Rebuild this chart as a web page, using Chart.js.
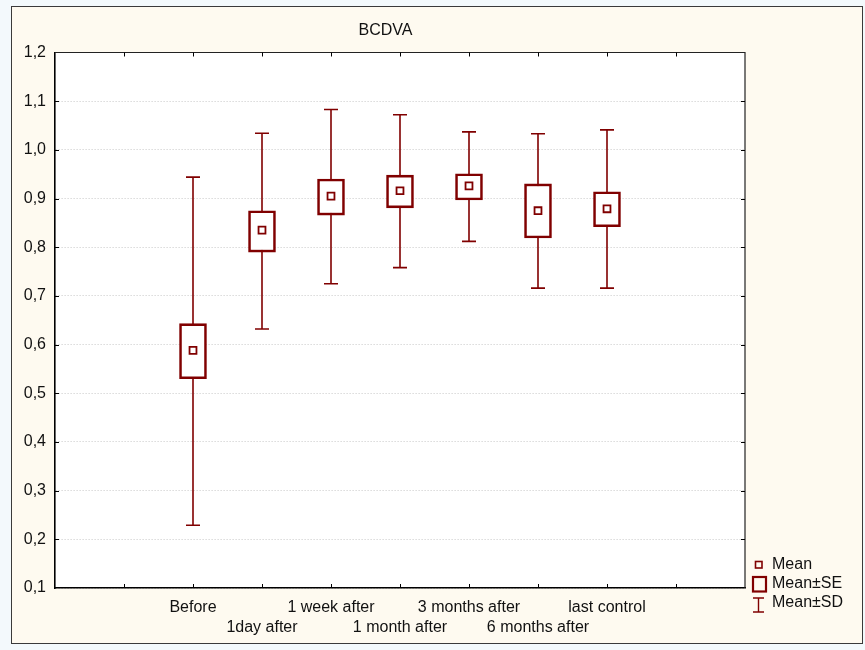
<!DOCTYPE html>
<html><head><meta charset="utf-8">
<script src="https://cdn.jsdelivr.net/npm/chart.js@4/dist/chart.umd.min.js"></script>
<style>
html,body{margin:0;padding:0;background:#f3f9fc;width:865px;height:650px;overflow:hidden;}
#panel{position:absolute;left:11px;top:6px;width:852px;height:638px;background:#fefaf0;border:1px solid #3a3a3a;box-sizing:border-box;}
#wrap{position:absolute;left:0;top:0;width:865px;height:650px;}
</style></head><body>
<div id="panel"></div>
<div id="wrap"><canvas id="c" width="865" height="650"></canvas></div>
<script>
const title = 'BCDVA';
const categories = ['Before','1day after','1 week after','1 month after','3 months after','6 months after','last control'];
const means  = [0.588, 0.835, 0.905, 0.916, 0.926, 0.875, 0.879];
const seLow  = [0.530, 0.790, 0.866, 0.881, 0.897, 0.819, 0.842];
const seHigh = [0.643, 0.875, 0.940, 0.948, 0.951, 0.930, 0.914];
const sdLow  = [0.229, 0.632, 0.725, 0.758, 0.812, 0.716, 0.716];
const sdHigh = [0.944, 1.034, 1.083, 1.072, 1.037, 1.033, 1.041];
const legendLabels = ['Mean', 'Mean\u00b1SE', 'Mean\u00b1SD'];

const RED = '#800000';
const FONT = "'Liberation Sans', Arial, sans-serif";
const OFFSET = 2; // first category sits at x = 2 on a 0..10 axis

const seData = categories.map((c, i) => ({x: i + OFFSET, y: [seLow[i], seHigh[i]]}));
const meanData = categories.map((c, i) => ({x: i + OFFSET, y: means[i]}));

const framePlugin = {
  id: 'frame',
  beforeDraw(chart) {
    const {ctx, chartArea: a} = chart;
    ctx.save();
    ctx.fillStyle = '#ffffff';
    ctx.fillRect(a.left, a.top, a.right - a.left, a.bottom - a.top);
    ctx.restore();
  },
  beforeDatasetsDraw(chart) {
    const {ctx, scales: {x, y}} = chart;
    ctx.save();
    ctx.strokeStyle = RED;
    ctx.lineWidth = 1.6;
    categories.forEach((c, i) => {
      const px = x.getPixelForValue(i + OFFSET);
      const yt = y.getPixelForValue(sdHigh[i]);
      const yb = y.getPixelForValue(sdLow[i]);
      ctx.beginPath();
      ctx.moveTo(px, yt); ctx.lineTo(px, yb);
      ctx.moveTo(px - 7, yt); ctx.lineTo(px + 7, yt);
      ctx.moveTo(px - 7, yb); ctx.lineTo(px + 7, yb);
      ctx.stroke();
    });
    ctx.restore();
  },
  afterDraw(chart) {
    const {ctx, chartArea: a, scales: {x, y}} = chart;
    ctx.save();
    // top & right frame
    ctx.strokeStyle = '#222';
    ctx.lineWidth = 1.2;
    ctx.beginPath();
    ctx.moveTo(a.left, a.top); ctx.lineTo(a.right, a.top); ctx.lineTo(a.right, a.bottom);
    ctx.stroke();
    // inward tick marks
    ctx.strokeStyle = '#000';
    ctx.lineWidth = 1;
    ctx.beginPath();
    x.ticks.forEach(t => {
      if (t.value <= x.min || t.value >= x.max) return;
      const px = Math.round(x.getPixelForValue(t.value)) + 0.5;
      ctx.moveTo(px, a.bottom); ctx.lineTo(px, a.bottom - 4);
      ctx.moveTo(px, a.top); ctx.lineTo(px, a.top + 4);
    });
    y.ticks.forEach(t => {
      if (t.value <= y.min + 1e-9 || t.value >= y.max - 1e-9) return;
      const py = Math.round(y.getPixelForValue(t.value)) + 0.5;
      ctx.moveTo(a.left, py); ctx.lineTo(a.left + 4, py);
      ctx.moveTo(a.right, py); ctx.lineTo(a.right - 4, py);
    });
    ctx.stroke();
    // title
    ctx.fillStyle = '#111';
    ctx.font = '16px ' + FONT;
    ctx.textAlign = 'center';
    ctx.textBaseline = 'middle';
    ctx.fillText(title, a.left + (a.right - a.left) / 2 - 14.5, 31);
    // legend
    const lx = a.right + 11;
    ctx.font = '16px ' + FONT;
    ctx.textAlign = 'left';
    ctx.strokeStyle = RED;
    ctx.lineWidth = 1.6;
    ctx.strokeRect(lx - 0.5, 561.5, 6.5, 6.5);
    ctx.fillStyle = '#111';
    ctx.fillText(legendLabels[0], lx + 16, 565);
    ctx.lineWidth = 2.2;
    ctx.strokeRect(lx - 3, 577, 13, 14.5);
    ctx.fillText(legendLabels[1], lx + 16, 584);
    ctx.lineWidth = 1.4;
    ctx.beginPath();
    ctx.moveTo(lx - 3, 598); ctx.lineTo(lx + 8, 598);
    ctx.moveTo(lx + 2.5, 598); ctx.lineTo(lx + 2.5, 612);
    ctx.moveTo(lx - 3, 612); ctx.lineTo(lx + 8, 612);
    ctx.stroke();
    ctx.fillText(legendLabels[2], lx + 16, 603);
    ctx.restore();
  }
};

new Chart(document.getElementById('c'), {
  type: 'bar',
  data: {
    datasets: [
      {
        type: 'scatter',
        data: meanData,
        pointStyle: 'rect',
        radius: 4.9,
        borderWidth: 1.8,
        borderColor: RED,
        backgroundColor: '#ffffff',
        order: 0
      },
      {
        type: 'bar',
        data: seData,
        barThickness: 27,
        grouped: false,
        borderWidth: 2.6,
        borderColor: RED,
        backgroundColor: '#ffffff',
        borderSkipped: false,
        order: 1
      }
    ]
  },
  options: {
    responsive: false,
    animation: false,
    events: [],
    layout: {padding: {top: 52.5, right: 120, left: 0, bottom: 0}},
    plugins: {legend: {display: false}, tooltip: {enabled: false}, title: {display: false}},
    scales: {
      x: {
        type: 'linear',
        offset: false,
        min: 0, max: 10,
        afterFit(s) { s.height = 62; },
        afterBuildTicks(s) { s.ticks = Array.from({length: 11}, (_, k) => ({value: k})); },
        grid: {display: false, drawTicks: false, offset: false},
        border: {display: true, color: '#000', width: 1.6},
        ticks: {
          autoSkip: false,
          maxRotation: 0,
          padding: 10,
          color: '#111',
          font: {family: FONT, size: 16, lineHeight: 1.25},
          callback(v) {
            const i = v - OFFSET;
            if (i < 0 || i >= categories.length || i !== Math.round(i)) return '';
            return i % 2 === 0 ? [categories[i]] : ['', categories[i]];
          }
        }
      },
      y: {
        min: 0.1, max: 1.2,
        afterFit(s) { s.width = 55; },
        grid: {color: '#c8c8c8', lineWidth: 1, drawTicks: false},
        border: {display: true, color: '#000', width: 1.6, dash: [1, 2]},
        ticks: {
          stepSize: 0.1,
          padding: 9,
          color: '#111',
          font: {family: FONT, size: 16},
          callback(v) { return v.toFixed(1).replace('.', ','); }
        }
      }
    }
  },
  plugins: [framePlugin]
});
</script>
</body></html>
